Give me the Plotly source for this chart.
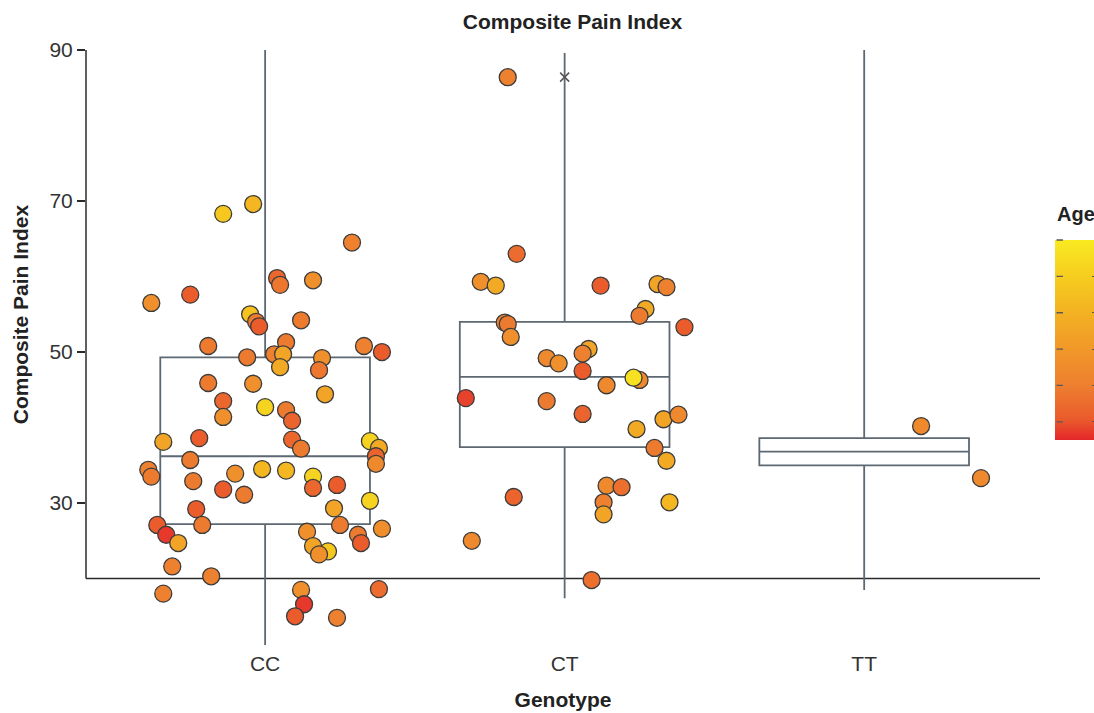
import plotly.graph_objects as go

# ---------------- data ----------------
genotypes = ["CC", "CT", "TT"]

# CC group: jitter offset from category centre, pain index, age
cc_offset = [-0.14, -0.04, 0.29, 0.04, 0.05, 0.16, -0.25, -0.38, -0.05, -0.03, -0.02, 0.12,
             -0.19, 0.07, 0.33, 0.39, -0.06, 0.03, 0.06, 0.19, 0.05, 0.18, -0.19, -0.04,
             0.20, -0.14, 0.00, 0.07, 0.09, -0.14, -0.22, -0.34, 0.09, 0.12, 0.35, 0.38,
             0.37, 0.37, -0.25, -0.39, -0.38, -0.24, -0.10, -0.01, 0.07, 0.16, 0.16, 0.24,
             -0.14, -0.07, 0.35, 0.23, -0.23, -0.36, -0.21, -0.33, -0.29, 0.14, 0.25, 0.31,
             0.32, 0.39, 0.16, 0.21, 0.18, -0.31, -0.18, -0.34, 0.12, 0.13, 0.10, 0.38, 0.24]
cc_pain = [68.3, 69.6, 64.5, 59.8, 58.9, 59.5, 57.6, 56.5, 55.0, 54.0, 53.4, 54.2,
           50.8, 51.3, 50.8, 50.0, 49.3, 49.7, 49.7, 49.2, 48.0, 47.6, 45.9, 45.8,
           44.4, 43.5, 42.7, 42.3, 40.9, 41.4, 38.6, 38.1, 38.4, 37.2, 38.2, 37.3,
           36.2, 35.2, 35.7, 34.4, 33.5, 32.9, 33.9, 34.5, 34.3, 33.5, 32.0, 32.4,
           31.8, 31.1, 30.3, 29.3, 29.2, 27.1, 27.1, 25.8, 24.7, 26.2, 27.1, 25.8,
           24.7, 26.6, 24.3, 23.6, 23.2, 21.6, 20.3, 18.0, 18.5, 16.6, 15.0, 18.6, 14.8]
cc_age = [58, 52, 31, 24, 28, 37, 21, 37, 56, 29, 21, 29,
          29, 29, 31, 21, 29, 31, 45, 37, 47, 28, 29, 37,
          45, 24, 62, 29, 23, 37, 21, 45, 24, 29, 62, 47,
          23, 34, 29, 31, 29, 29, 37, 52, 52, 62, 24, 21,
          21, 29, 62, 45, 21, 21, 29, 17, 45, 37, 29, 29,
          21, 36, 45, 58, 37, 31, 31, 31, 37, 17, 21, 25, 31]

# CT group
ct_offset = [-0.19, -0.16, -0.28, -0.23, 0.12, 0.31, 0.34, -0.20, -0.19, -0.18, 0.27, 0.25,
             0.40, 0.08, 0.06, -0.06, -0.02, 0.06, 0.25, 0.23, 0.14, -0.33, -0.06, 0.06,
             0.33, 0.38, 0.24, 0.30, 0.34, 0.14, 0.19, 0.13, 0.13, 0.35, -0.17, -0.31, 0.09]
ct_pain = [86.4, 63.0, 59.3, 58.8, 58.8, 59.0, 58.6, 53.9, 53.7, 52.0, 55.7, 54.8,
           53.3, 50.4, 49.8, 49.2, 48.5, 47.5, 46.3, 46.6, 45.6, 43.9, 43.5, 41.8,
           41.1, 41.7, 39.8, 37.3, 35.6, 32.3, 32.1, 30.1, 28.5, 30.1, 30.8, 25.0, 19.8]
ct_age = [31, 25, 37, 47, 21, 45, 31, 31, 29, 37, 47, 29,
          21, 45, 31, 34, 37, 21, 34, 67, 34, 18, 29, 23,
          45, 34, 47, 29, 47, 34, 26, 31, 45, 52, 23, 34, 26]

# TT group
tt_offset = [0.19, 0.39]
tt_pain = [40.2, 33.3]
tt_age = [34, 34]

# box statistics per genotype (as drawn)
box_q1 = [27.2, 37.4, 35.0]
box_median = [36.2, 46.7, 36.8]
box_q3 = [49.3, 54.0, 38.6]
box_lower = [11.2, 17.4, 18.5]
box_upper = [90.0, 89.6, 90.0]

# outlier marker (x) for CT
outlier_group = [1]
outlier_value = [86.4]

age_range = [15, 70]
age_ticks = [20, 30, 40, 50, 60, 70]
y_ticks = [30, 50, 70, 90]

# ---------------- figure ----------------
FONT = "Liberation Sans, Arial, Helvetica, sans-serif"
BOX_COLOR = "#5e6872"

W, H = 1094, 713
ML, MR, MT, MB = 86, 54, 50, 68
plot_h = H - MT - MB
plot_w = W - ML - MR

fig = go.Figure()

fig.add_trace(go.Box(
    x=[0, 1, 2], q1=box_q1, median=box_median, q3=box_q3,
    lowerfence=box_lower, upperfence=box_upper,
    width=0.7, whiskerwidth=0, boxpoints=False,
    fillcolor="rgba(255,255,255,0)", line=dict(color=BOX_COLOR, width=1.8),
    showlegend=False, hoverinfo="skip",
))

fig.add_trace(go.Scatter(
    x=outlier_group, y=outlier_value, mode="markers",
    marker=dict(symbol="x-thin", size=9, line=dict(color="#555555", width=1.6)),
    showlegend=False,
))

groups = [(cc_offset, cc_pain, cc_age), (ct_offset, ct_pain, ct_age), (tt_offset, tt_pain, tt_age)]
for gi, (off, pain, age) in enumerate(groups):
    fig.add_trace(go.Scatter(
        x=[gi + o for o in off], y=pain, mode="markers",
        marker=dict(size=17, color=age, coloraxis="coloraxis",
                    line=dict(color="#3c3c3c", width=1.3), opacity=1),
        cliponaxis=False, showlegend=False, name=genotypes[gi],
    ))

# axis lines (x axis sits at pain index 20)
fig.add_shape(type="line", xref="paper", yref="y", x0=0, x1=1, y0=20, y1=20,
              line=dict(color="#2a2a2a", width=1.5), layer="below")
fig.add_shape(type="line", xref="paper", yref="y", x0=0, x1=0, y0=20, y1=90,
              line=dict(color="#2a2a2a", width=1.5), layer="below")

fig.add_annotation(text="<b>Composite Pain Index</b>", textangle=-90,
                   xref="paper", yref="y", x=-66 / plot_w, xanchor="center", y=55, showarrow=False,
                   font=dict(family=FONT, size=21, color="#222222"))

# colour bar geometry
cb_x = (1055 - ML) / plot_w
cb_top = (H - MB - 240) / plot_h
cb_len_px = 200
fig.add_annotation(text="<b>Age</b>", xref="paper", yref="paper", x=(1055 - ML) / plot_w,
                   xanchor="left", y=(H - MB - 214) / plot_h, yanchor="middle", showarrow=False,
                   font=dict(family=FONT, size=20, color="#222222"))
# short tick marks on the left edge of the colour bar
for a in age_ticks:
    yp = cb_top - (age_range[1] - a) / (age_range[1] - age_range[0]) * cb_len_px / plot_h
    fig.add_annotation(text="", xref="paper", yref="paper", x=cb_x + 8 / plot_w, y=yp,
                       ax=-8, ay=0, showarrow=True, arrowhead=0, arrowwidth=1.3,
                       arrowcolor="#5a5a5a", standoff=0, startstandoff=0)

fig.update_layout(
    width=W, height=H,
    margin=dict(l=ML, r=MR, t=MT, b=MB, autoexpand=False),
    paper_bgcolor="white", plot_bgcolor="white",
    font=dict(family=FONT, color="#333333"),
    title=dict(text="<b>Composite Pain Index</b>", x=572.5 / W, xref="container", xanchor="center",
               y=1 - 22 / H, yref="container", yanchor="middle",
               font=dict(family=FONT, size=21, color="#222222")),
    xaxis=dict(range=[-0.598, 2.587], tickvals=[0, 1, 2], ticktext=genotypes,
               showgrid=False, zeroline=False, showline=False, ticks="",
               tickfont=dict(size=21, color="#333333"), ticklabelstandoff=4,
               title=dict(text="<b>Genotype</b>", font=dict(size=21, color="#222222"), standoff=18)),
    yaxis=dict(range=[11.2, 90], tickvals=y_ticks, showgrid=False, zeroline=False,
               showline=False, ticks="outside", ticklen=8, tickwidth=1.5, tickcolor="#2a2a2a",
               tickfont=dict(size=21, color="#333333")),
    coloraxis=dict(
        cmin=age_range[0], cmax=age_range[1],
        colorscale=[[0.0, "#e4262a"], [0.1, "#ea5a2c"], [0.28, "#ee8030"],
                    [0.55, "#f2a526"], [0.78, "#f5c71f"], [1.0, "#f9ea21"]],
        colorbar=dict(x=cb_x, xanchor="left", xpad=0, thickness=45,
                      len=cb_len_px, lenmode="pixels", y=cb_top, yanchor="top", ypad=0,
                      outlinewidth=0, ticks="inside", ticklen=8, tickcolor="#5a5a5a",
                      tickvals=age_ticks, showticklabels=False),
    ),
)

fig.write_html("out.html", config={"displayModeBar": False},
               post_script="document.body.style.margin='0px';")
